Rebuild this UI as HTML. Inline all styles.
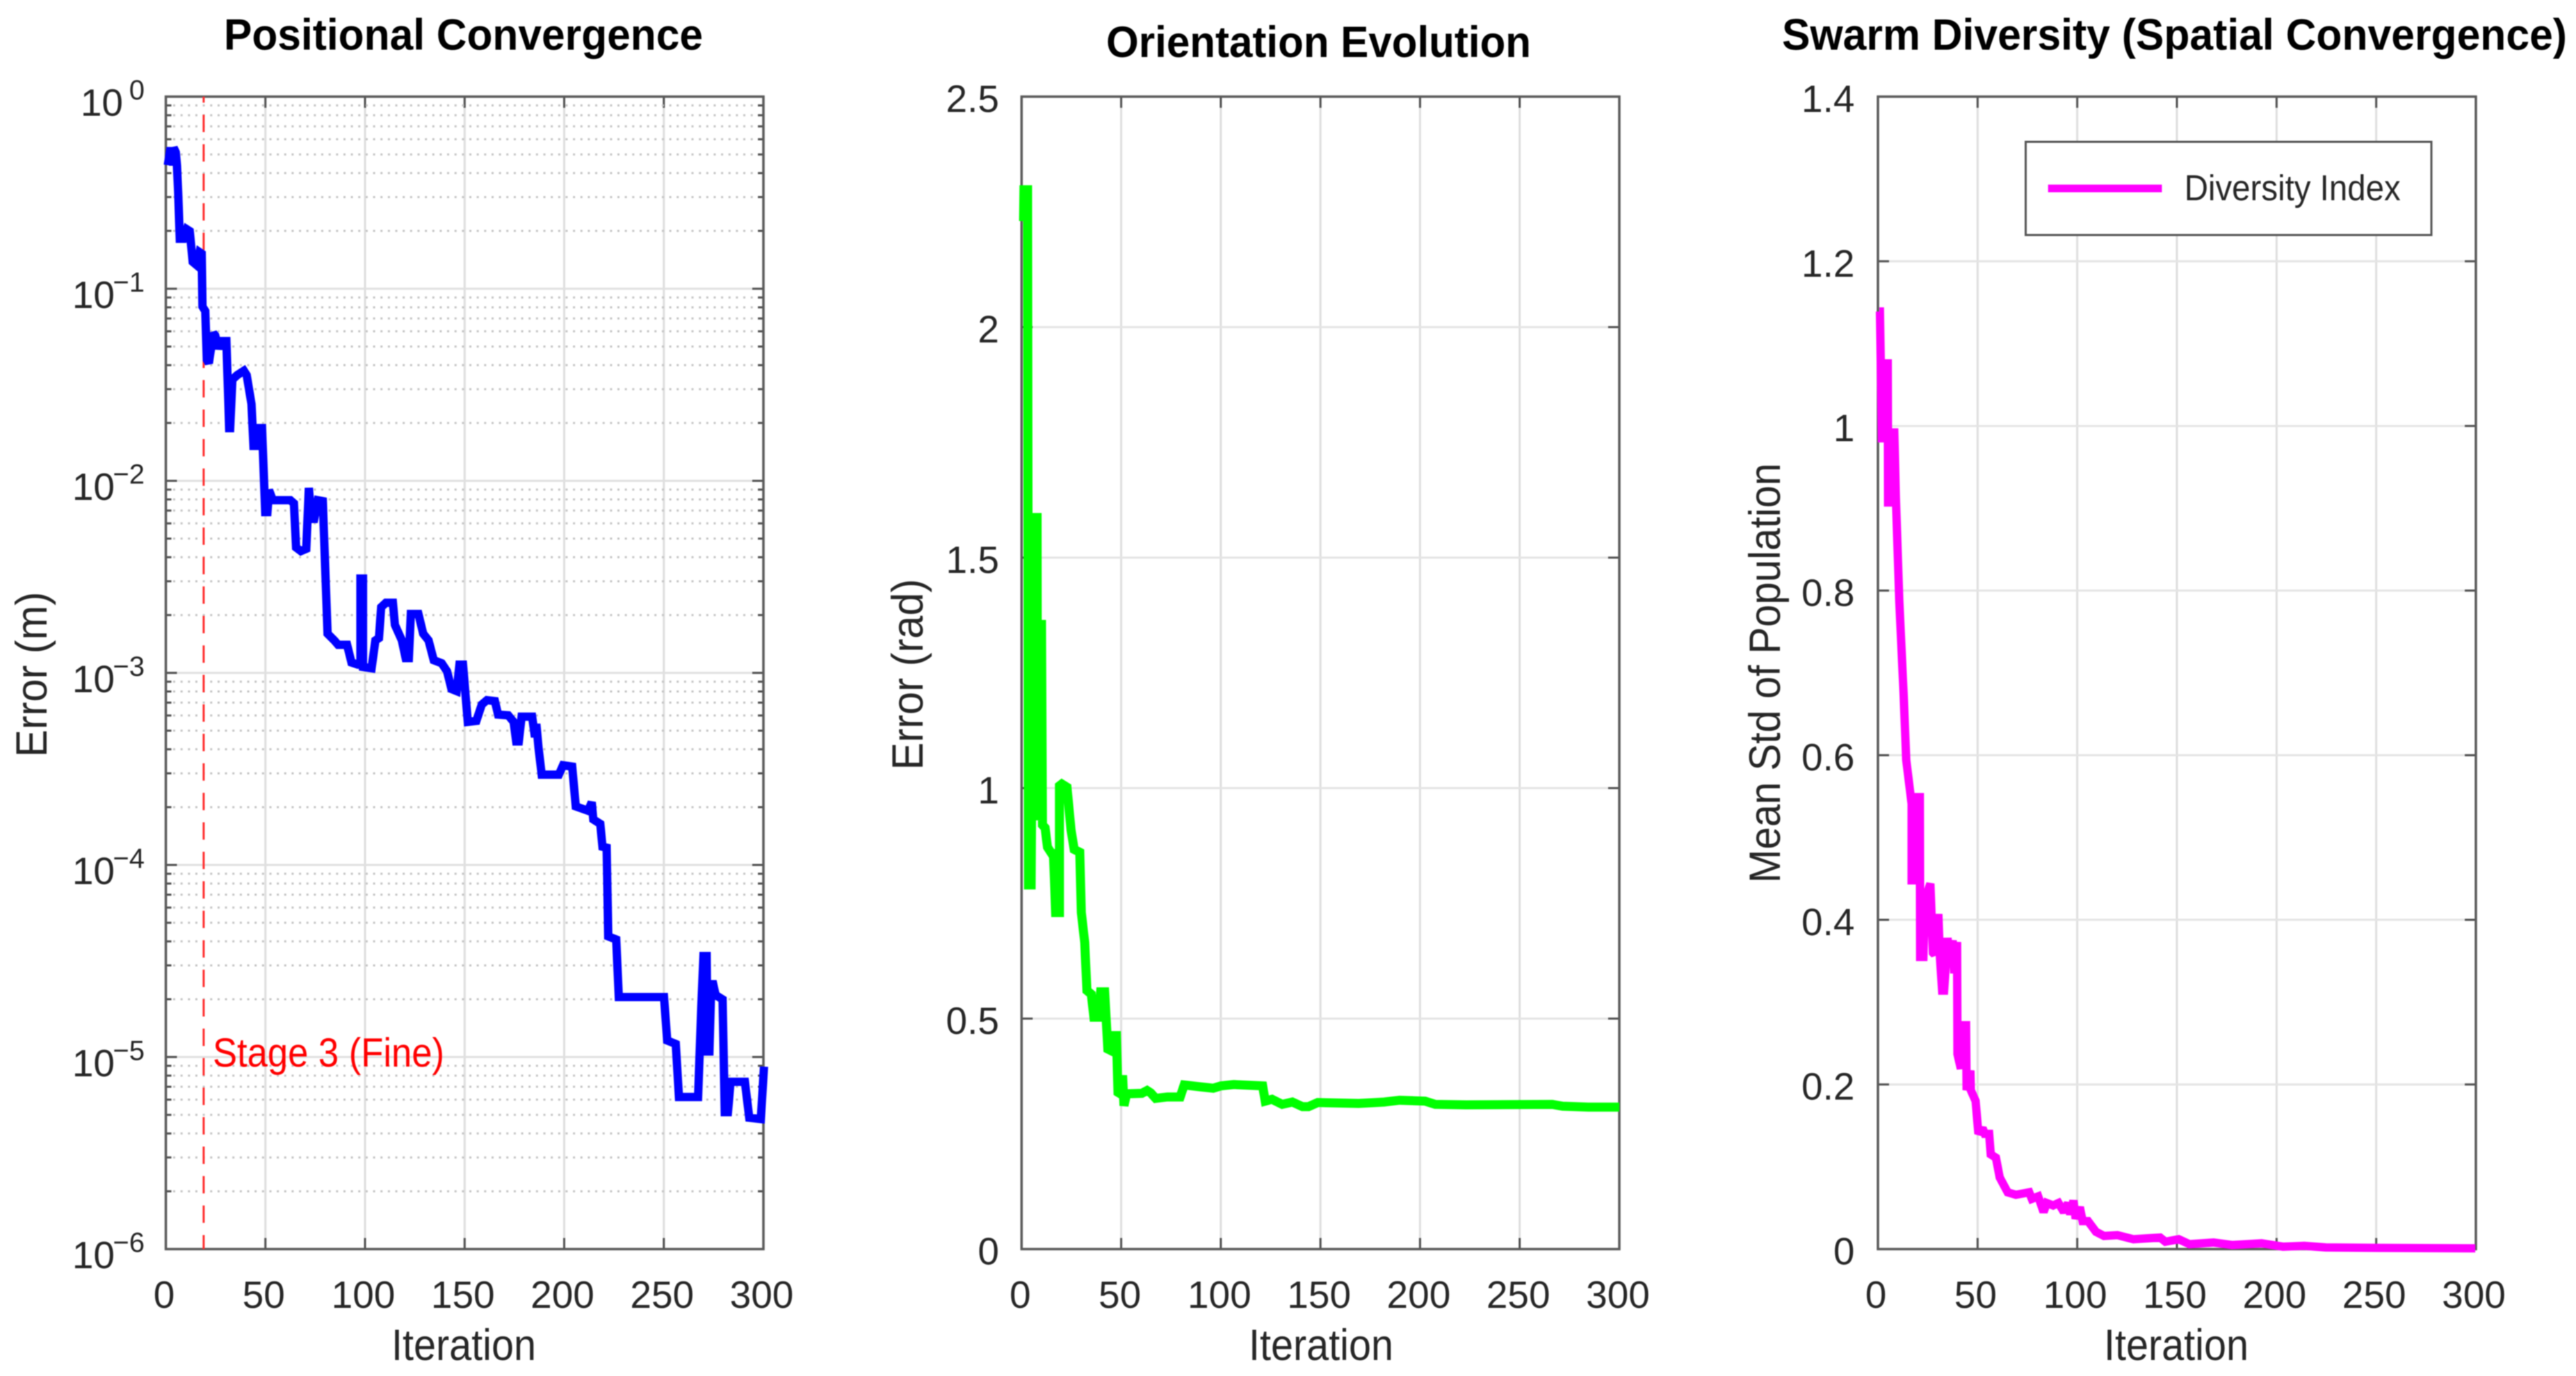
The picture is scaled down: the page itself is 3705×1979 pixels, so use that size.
<!DOCTYPE html>
<html lang="en">
<head>
<meta charset="utf-8">
<title>Swarm Convergence Charts</title>
<style>
  html, body { margin: 0; padding: 0; background: #ffffff; }
  #figure { display: block; filter: blur(0.8px); }
  text { font-family: "Liberation Sans", sans-serif; fill: #262626; }
  .title { font-weight: bold; font-size: 63px; fill: #000000; text-anchor: middle; }
  .axis-title { font-size: 63px; text-anchor: middle; }
  .tick { font-size: 55px; }
</style>
</head>
<body>
<svg id="figure" width="3705" height="1979" viewBox="0 0 3705 1979" xmlns="http://www.w3.org/2000/svg">
  <rect x="0" y="0" width="3705" height="1979" fill="#ffffff"/>

  <g id="panel-position">
    <text class="title" x="666.5" y="71.5" textLength="689" lengthAdjust="spacingAndGlyphs">Positional Convergence</text>
    <text class="axis-title" x="667" y="1956" textLength="208" lengthAdjust="spacingAndGlyphs">Iteration</text>
    <text class="axis-title" transform="translate(67 970) rotate(-90)" x="0" y="0" textLength="238" lengthAdjust="spacingAndGlyphs">Error (m)</text>
  </g>

  <g id="panel-orientation">
    <text class="title" x="1896.5" y="82" textLength="611" lengthAdjust="spacingAndGlyphs">Orientation Evolution</text>
    <text class="axis-title" x="1900" y="1956" textLength="208" lengthAdjust="spacingAndGlyphs">Iteration</text>
    <text class="axis-title" transform="translate(1327 970) rotate(-90)" x="0" y="0" textLength="275" lengthAdjust="spacingAndGlyphs">Error (rad)</text>
  </g>

  <g id="panel-diversity">
    <text class="title" x="3127.5" y="71.5" textLength="1129" lengthAdjust="spacingAndGlyphs">Swarm Diversity (Spatial Convergence)</text>
    <text class="axis-title" x="3130" y="1956" textLength="208" lengthAdjust="spacingAndGlyphs">Iteration</text>
    <text class="axis-title" transform="translate(2560 968) rotate(-90)" x="0" y="0" textLength="604" lengthAdjust="spacingAndGlyphs">Mean Std of Population</text>
  </g>

  <g id="overlay">
    <text x="306" y="1534" font-size="58" textLength="333" lengthAdjust="spacingAndGlyphs" style="fill:#ff0000">Stage 3 (Fine)</text>
    <g>
      <rect x="2913.5" y="204" width="583.5" height="134" fill="#ffffff" stroke="#555555" stroke-width="3"/>
      <line x1="2945.7" y1="271" x2="3109.4" y2="271" stroke="#ff00ff" stroke-width="11"/>
      <text x="3141.7" y="288" font-size="52" textLength="311" lengthAdjust="spacingAndGlyphs">Diversity Index</text>
    </g>
  </g>
</svg>

<script>
// ---- Chart data: values ----
const iterationTicks = [0, 50, 100, 150, 200, 250, 300];

const positionExponentTicks = [0, -1, -2, -3, -4, -5, -6];
const positionMinorMultipliers = [2, 3, 4, 5, 6, 7, 8, 9];
const stage3Iteration = [19];

const positionIterations = [1, 2.4, 3.7, 3.9, 5, 5.6, 6.2, 7, 8.8, 10.5, 12, 13.5, 15.8, 17, 18, 18.4, 19.8, 20.6, 21.6, 23.8, 24.8, 26.4, 27.8, 30.4, 31.8, 32.3, 33.4, 35.8, 39.2, 40.6, 43, 44, 45.6, 47.3, 48.3, 49.9, 51, 51.8, 53.7, 62.5, 64.3, 65.4, 67.8, 70.5, 71.8, 73.1, 74.5, 76.3, 78.8, 80.4, 81.2, 84.6, 86.5, 91, 93.2, 96.4, 97.7, 97.7, 99, 99, 103.3, 105.2, 107, 108.1, 110.5, 114, 115, 118.5, 120.4, 122, 123, 126.8, 129.2, 131.9, 134.5, 138.5, 141.2, 143.4, 146, 147.4, 149.2, 150.5, 151.6, 155.9, 158.6, 161.2, 165.2, 166.8, 171.9, 174.6, 175.9, 177.2, 178.6, 183.9, 185.3, 186, 187.1, 188.7, 197.3, 199.4, 204, 205.8, 212, 213.8, 214.6, 218.1, 219.2, 221.3, 222.1, 226.1, 227.4, 250.1, 251.7, 256, 257.6, 267.2, 268.8, 269.9, 271.5, 272, 272.9, 273.8, 274.8, 276, 279.5, 280.6, 282.2, 283.5, 290.7, 292.9, 298.7, 300.3];
const positionErrorExponent = [-0.357, -0.265, -0.357, -0.265, -0.29, -0.36, -0.5, -0.74, -0.74, -0.69, -0.70, -0.86, -0.88, -0.81, -0.817, -1.093, -1.116, -1.37, -1.388, -1.231, -1.243, -1.312, -1.273, -1.273, -1.726, -1.726, -1.473, -1.45, -1.427, -1.45, -1.6, -1.818, -1.818, -1.726, -1.726, -2.163, -2.163, -2.048, -2.101, -2.101, -2.117, -2.347, -2.366, -2.354, -2.037, -2.198, -2.198, -2.101, -2.106, -2.566, -2.796, -2.831, -2.854, -2.854, -2.946, -2.957, -2.957, -2.509, -2.509, -2.969, -2.976, -2.831, -2.819, -2.658, -2.635, -2.635, -2.75, -2.831, -2.923, -2.923, -2.693, -2.693, -2.796, -2.831, -2.934, -2.95, -2.992, -3.084, -3.095, -2.957, -2.957, -3.12, -3.255, -3.25, -3.165, -3.142, -3.147, -3.217, -3.221, -3.255, -3.357, -3.357, -3.228, -3.228, -3.334, -3.266, -3.39, -3.53, -3.53, -3.481, -3.488, -3.695, -3.718, -3.673, -3.763, -3.786, -3.905, -3.91, -4.372, -4.388, -4.688, -4.688, -4.914, -4.932, -5.208, -5.208, -4.745, -4.474, -4.474, -4.971, -4.971, -4.621, -4.621, -4.677, -4.70, -5.287, -5.287, -5.129, -5.129, -5.316, -5.323, -5.05];

const orientationTicks = [0, 0.5, 1, 1.5, 2, 2.5];
const orientationTickLabels = ['0', '0.5', '1', '1.5', '2', '2.5'];
const orientationIterations = [1, 1.2, 3, 3.5, 4.8, 5.5, 6.2, 7.8, 8, 9, 10, 10.5, 11.8, 13, 15.1, 16, 17.1, 19, 19, 20.2, 22.8, 24.8, 26.4, 29.2, 30, 31.7, 32.8, 35, 36.3, 38.9, 39.7, 41.7, 43.3, 45.6, 46.8, 47.6, 48.4, 49.9, 50.7, 51.4, 52.7, 60.4, 63, 64.8, 67.3, 73.2, 79.6, 81.6, 89.8, 96.2, 100, 106.5, 121, 122.3, 125.7, 130.8, 135.9, 141, 144, 148.7, 169.2, 182, 189.7, 202.5, 207.6, 223, 266.4, 271.6, 284.4, 300];
const orientationError = [2.23, 2.298, 2.298, 0.79, 0.79, 1.3, 1.587, 1.587, 0.93, 1.355, 1.355, 0.92, 0.914, 0.872, 0.858, 0.858, 0.73, 0.73, 1.005, 1.009, 1.002, 0.91, 0.867, 0.861, 0.73, 0.665, 0.561, 0.553, 0.503, 0.503, 0.558, 0.558, 0.434, 0.429, 0.463, 0.463, 0.34, 0.336, 0.377, 0.311, 0.337, 0.338, 0.344, 0.339, 0.327, 0.33, 0.33, 0.356, 0.352, 0.349, 0.354, 0.357, 0.354, 0.321, 0.325, 0.314, 0.319, 0.309, 0.309, 0.318, 0.316, 0.319, 0.323, 0.321, 0.314, 0.313, 0.314, 0.31, 0.308, 0.308];

const diversityTicks = [0, 0.2, 0.4, 0.6, 0.8, 1, 1.2, 1.4];
const diversityTickLabels = ['0', '0.2', '0.4', '0.6', '0.8', '1', '1.2', '1.4'];
const diversityIterations = [0.7, 1, 2, 3, 3.7, 4.9, 5.1, 6, 7.9, 8.2, 9, 10.7, 12.9, 14.2, 16.9, 16.9, 18.5, 20.4, 21, 21.2, 22.8, 23.6, 26.3, 27.6, 28.4, 30.3, 31.1, 32.2, 33.2, 34.9, 35.9, 37.5, 38.3, 39.7, 39.9, 41.6, 42.4, 43.6, 44.2, 44.5, 46.4, 46.6, 49, 50.4, 52.5, 53.6, 55.8, 56.6, 59.2, 61.1, 65.1, 69.2, 75.9, 77.2, 80.4, 83.1, 84.7, 87.9, 90.6, 93.3, 95.4, 96.5, 98.1, 99.2, 101.3, 102.7, 105.4, 109.4, 113.4, 120.1, 128.2, 141.6, 144.2, 150.9, 156.3, 168.4, 177.7, 192.5, 203.2, 213.9, 224.7, 251.5, 299.7];
const diversityIndex = [1.139, 1.139, 0.985, 0.985, 1.076, 1.076, 0.907, 0.907, 0.992, 0.992, 0.913, 0.788, 0.673, 0.594, 0.541, 0.448, 0.448, 0.549, 0.549, 0.355, 0.355, 0.425, 0.444, 0.36, 0.358, 0.407, 0.355, 0.314, 0.314, 0.378, 0.35, 0.375, 0.335, 0.373, 0.237, 0.219, 0.272, 0.272, 0.272, 0.193, 0.217, 0.193, 0.18, 0.14, 0.147, 0.14, 0.14, 0.115, 0.111, 0.087, 0.069, 0.066, 0.069, 0.061, 0.064, 0.045, 0.056, 0.053, 0.056, 0.045, 0.056, 0.042, 0.059, 0.037, 0.051, 0.034, 0.034, 0.021, 0.016, 0.017, 0.012, 0.014, 0.009, 0.012, 0.006, 0.008, 0.005, 0.007, 0.003, 0.004, 0.002, 0.0015, 0.001];

// ---- Helpers ----
const SVG_NS = 'http://www.w3.org/2000/svg';
const TOP = 139;
const BOTTOM = 1796.5;
const ITERATION_MAX = 300;

function make(parent, tag, attrs, content) {
  const node = document.createElementNS(SVG_NS, tag);
  for (const key in attrs) node.setAttribute(key, attrs[key]);
  if (content !== undefined) node.textContent = content;
  parent.appendChild(node);
  return node;
}

function xAxis(panel) {
  return function (iteration) {
    return panel.left + (iteration / ITERATION_MAX) * (panel.right - panel.left);
  };
}

function linearY(maxValue) {
  return function (value) {
    return BOTTOM - (value / maxValue) * (BOTTOM - TOP);
  };
}

function logY(minExponent, maxExponent) {
  return function (exponent) {
    return TOP + ((maxExponent - exponent) / (maxExponent - minExponent)) * (BOTTOM - TOP);
  };
}

function drawXAxis(group, panel, x, labelShift) {
  iterationTicks.forEach(function (tick) {
    const px = x(tick);
    if (tick > 0 && tick < ITERATION_MAX) {
      const grid = make(group, 'line', { x1: px, y1: TOP, x2: px, y2: BOTTOM, stroke: '#dedede', 'stroke-width': 3 });
      
      
    }
    const tickBottom = make(group, 'line', { x1: px, y1: BOTTOM, x2: px, y2: BOTTOM - 16, stroke: '#505050', 'stroke-width': 3 });
    
    
    const tickTop = make(group, 'line', { x1: px, y1: TOP, x2: px, y2: TOP + 16, stroke: '#505050', 'stroke-width': 3 });
    
    
    const label = make(group, 'text', { class: 'tick', x: px + labelShift, y: 1881, 'text-anchor': 'middle' }, String(tick));
    
    
  });
}

function drawLinearYAxis(group, panel, y, ticks, labels, labelRight, baselineShift) {
  ticks.forEach(function (tick, index) {
    const py = y(tick);
    if (index > 0 && index < ticks.length - 1) {
      const grid = make(group, 'line', { x1: panel.left, y1: py, x2: panel.right, y2: py, stroke: '#e4e4e4', 'stroke-width': 3 });
      
      
    }
    const tickLeft = make(group, 'line', { x1: panel.left, y1: py, x2: panel.left + 16, y2: py, stroke: '#505050', 'stroke-width': 3 });
    
    
    const tickRight = make(group, 'line', { x1: panel.right, y1: py, x2: panel.right - 16, y2: py, stroke: '#505050', 'stroke-width': 3 });
    
    
    const label = make(group, 'text', { class: 'tick', x: labelRight, y: py + baselineShift, 'text-anchor': 'end' }, labels[index]);
    
    
  });
}

function drawLogYAxis(group, panel, y) {
  positionExponentTicks.forEach(function (exponent) {
    const py = y(exponent);
    if (exponent < 0 && exponent > -6) {
      const grid = make(group, 'line', { x1: panel.left, y1: py, x2: panel.right, y2: py, stroke: '#e0e0e0', 'stroke-width': 3 });
      
      
    }
    const tickLeft = make(group, 'line', { x1: panel.left, y1: py, x2: panel.left + 16, y2: py, stroke: '#505050', 'stroke-width': 3 });
    
    
    const tickRight = make(group, 'line', { x1: panel.right, y1: py, x2: panel.right - 16, y2: py, stroke: '#505050', 'stroke-width': 3 });
    
    
    const base = make(group, 'text', { class: 'tick', x: exponent === 0 ? 177 : 165, y: py + 27.5, 'text-anchor': 'end' }, '10');
    
    
    const power = make(group, 'text', { x: 208, y: py + 4, 'font-size': 40, 'text-anchor': 'end' }, exponent === 0 ? '0' : '\u2212' + Math.abs(exponent));
    
    
    if (exponent > -6) {
      positionMinorMultipliers.forEach(function (multiplier) {
        const my = y(exponent - 1 + Math.log10(multiplier));
        const minor = make(group, 'line', { x1: panel.left + 10.5, y1: my, x2: panel.right, y2: my, stroke: '#c4c4c4', 'stroke-width': 3, 'stroke-dasharray': '3 7.65' });
        
        
        const minorLeft = make(group, 'line', { x1: panel.left, y1: my, x2: panel.left + 8, y2: my, stroke: '#505050', 'stroke-width': 3 });
        
        
        const minorRight = make(group, 'line', { x1: panel.right, y1: my, x2: panel.right - 8, y2: my, stroke: '#505050', 'stroke-width': 3 });
        
        
      });
    }
  });
}

function drawFrame(group, panel) {
  const frame = make(group, 'rect', { x: panel.left, y: TOP, width: panel.right - panel.left, height: BOTTOM - TOP, fill: 'none', stroke: '#5a5a5a', 'stroke-width': 3.5 });
  
  
}

function seriesPoints(xs, ys, x, y) {
  return xs.map(function (value, index) {
    return x(value).toFixed(2) + ',' + y(ys[index]).toFixed(2);
  }).join(' ');
}

function drawSeries(group, xs, ys, x, y, color, width) {
  const line = make(group, 'polyline', {
    points: seriesPoints(xs, ys, x, y),
    fill: 'none',
    stroke: color,
    'stroke-width': width,
    'stroke-linejoin': 'miter',
    'stroke-miterlimit': 2,
    'stroke-linecap': 'butt'
  });
  return line;
}

function prepareGroup(id) {
  const parent = document.getElementById(id);
  const group = document.createElementNS(SVG_NS, 'g');
  parent.insertBefore(group, parent.firstChild);
  return group;
}

// ---- Panel 1: positional error (log scale) ----
const positionPanel = { left: 238.5, right: 1098 };
const positionGroup = prepareGroup('panel-position');


const positionX = xAxis(positionPanel);
const positionY = logY(-6, 0);
drawXAxis(positionGroup, positionPanel, positionX, -2.5);
drawLogYAxis(positionGroup, positionPanel, positionY);
drawFrame(positionGroup, positionPanel);
stage3Iteration.forEach(function (iteration) {
  const stageLine = make(positionGroup, 'line', {
    x1: positionX(iteration), y1: TOP, x2: positionX(iteration), y2: BOTTOM,
    stroke: '#ff2e2e', 'stroke-width': 3, 'stroke-dasharray': '25 17.4', 'stroke-dashoffset': 16.4
  });
  
  
});
const positionLine = drawSeries(positionGroup, positionIterations, positionErrorExponent, positionX, positionY, '#0000ff', 12);



// ---- Panel 2: orientation error ----
const orientationPanel = { left: 1469.3, right: 2329 };
const orientationGroup = prepareGroup('panel-orientation');


const orientationX = xAxis(orientationPanel);
const orientationY = linearY(2.5);
drawXAxis(orientationGroup, orientationPanel, orientationX, -2);
drawLinearYAxis(orientationGroup, orientationPanel, orientationY, orientationTicks, orientationTickLabels, 1437, 22);
drawFrame(orientationGroup, orientationPanel);
const orientationLine = drawSeries(orientationGroup, orientationIterations, orientationError, orientationX, orientationY, '#00ff00', 13);



// ---- Panel 3: swarm diversity ----
const diversityPanel = { left: 2701, right: 3561 };
const diversityGroup = prepareGroup('panel-diversity');


const diversityX = xAxis(diversityPanel);
const diversityY = linearY(1.4);
drawXAxis(diversityGroup, diversityPanel, diversityX, -3);
drawLinearYAxis(diversityGroup, diversityPanel, diversityY, diversityTicks, diversityTickLabels, 2667.5, 22);
drawFrame(diversityGroup, diversityPanel);
const diversityLine = drawSeries(diversityGroup, diversityIterations, diversityIndex, diversityX, diversityY, '#ff00ff', 12);


</script>
</body>
</html>
